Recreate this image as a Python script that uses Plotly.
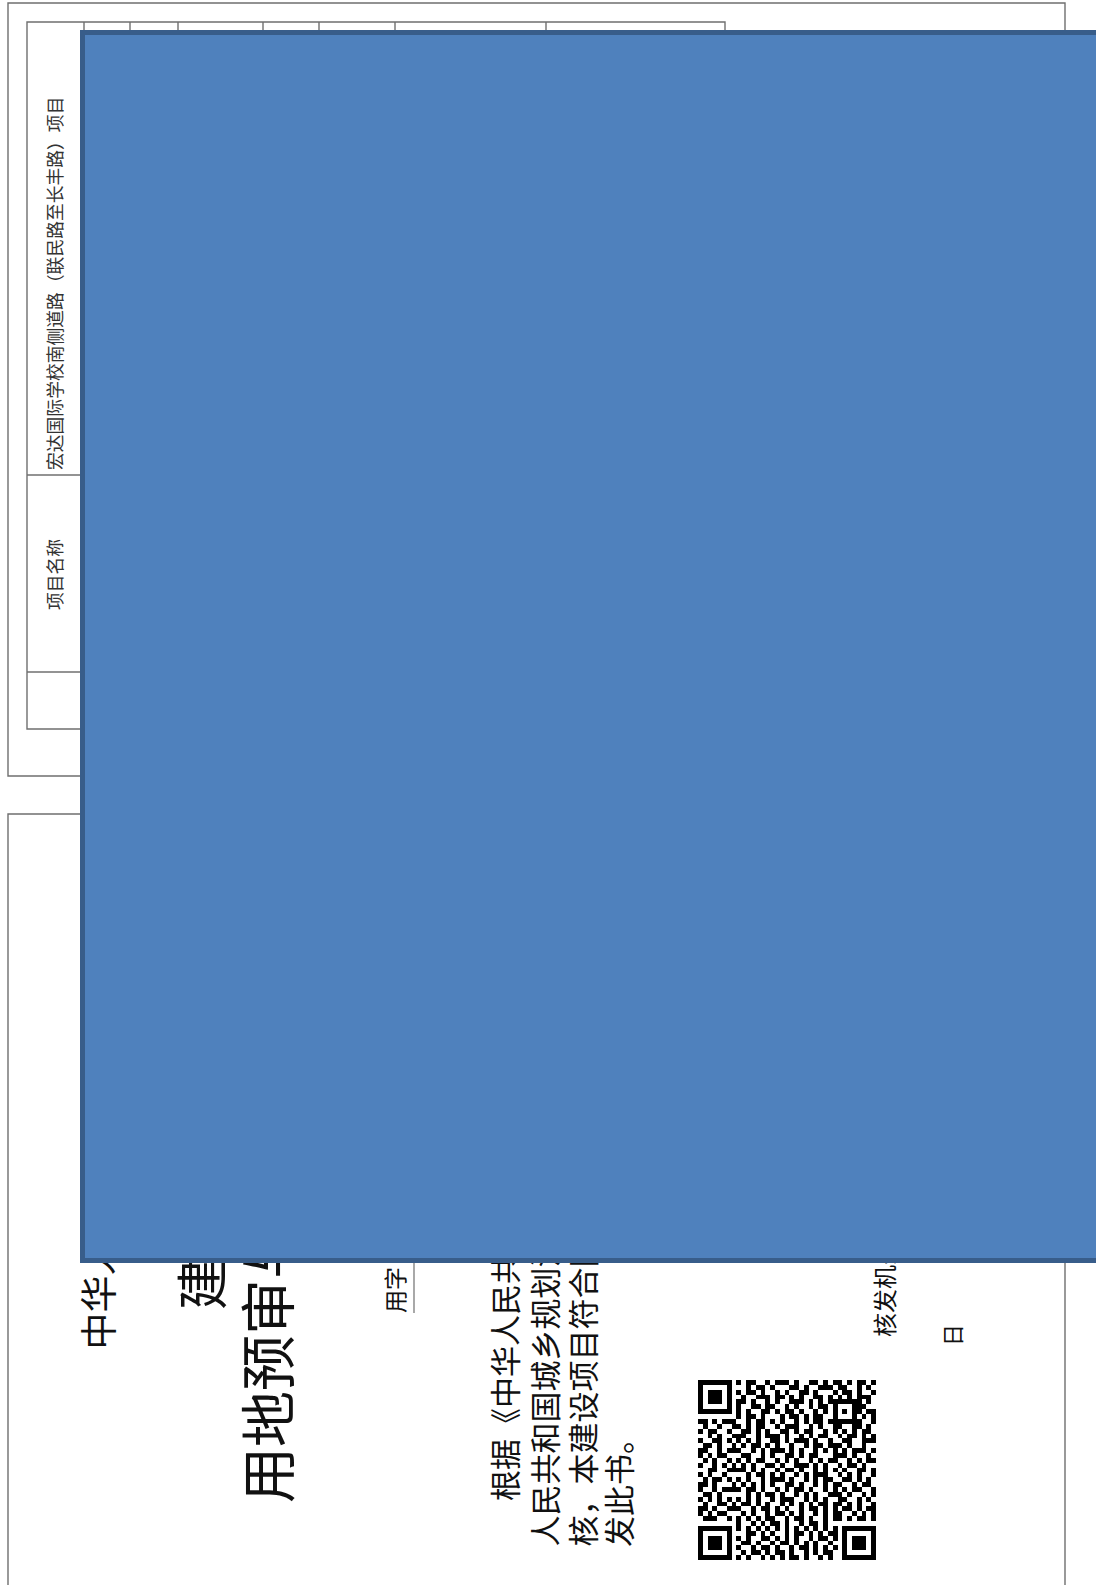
import plotly.graph_objects as go

# page texts (rotated document, read bottom-to-top)
table_label = "项目名称"
project_name = "宏达国际学校南侧道路（联民路至长丰路）项目"
country = "中华人民共和国"
title_lines = ["建设项目", "用地预审与选址意见书"]
number_label = "用字"
body_lines = [
    "根据《中华人民共和国土地管理法》",
    "人民共和国城乡规划法》和国家有关规定，经审",
    "核，本建设项目符合国土空间用途管制要求，颁",
    "发此书。",
]
issuer = "核发机关"
day_label = "日"

# QR code modules, '#' dark, '.' light
qr_rows = [
    "#######.#.##..#.###.#..##.#.##.#.##.###",
    "#.....#...#.##.#...##.#..###.##..#.#.",
    "#.###.#.#.##.#..#.#..##.#...#.##.#..#",
    "#.###.#..#..###.##.#.#..##.#.#.#.###.",
    "#.###.#.##.#..#.#..###.#.#.#######.#.#",
    "#.....#.#..##.##..#.#..#.##.#...###..",
    "#######.#.#..##.#.##.#..#.#.#.#.##.##",
    "........#.##.#...#.##.#.##..#...#.#.#",
    "##.#.###..#.##.#.#..#.#.##.#######..#.",
    ".#..#..##.#.##..#.###..#.#..##..##.#.",
    "#.##..#..##.#.#..##.#.##..#.#.#.#.##.",
    "..#.#..###..#.###.#..#.#.##..#.##.#.#",
    "#..##.#.#.#.#..##.#.###.#..#..##..###",
    ".##.#..#.#.##.#.#..#..#.##.###.#..#..",
    "##..#.###..#.#.###.#.#..#.#.#.#.###.#",
    "#.#.##...##..#.#..##.#.##...###.#..#.",
    ".#.#..#.#.#.##..#.#.#..#.#.##..#.#.##",
    "#..#.#.#.#.#..##.#..###.#.#..#.##.#..",
    "..##..####.#.#..#.##.#..#.#.#.#..##.#",
    "#.#..#....#.##.#.#..#.#.###..#.#.#..#",
    ".#.##.#.#.#..#.###.#..#.#.##..##.#.#.",
    "##.#...#.#.#.#.#..##.#..#.#.##..#.##.",
    "#..#.####.##.#..#.#.##.#..#.#.#.##..#",
    ".##.#.....#.#.##.#..#.#.#..###.#..#.#",
    "#.#.#.#.#.#.#..#.###..#.#.#..##..#.#.",
    ".#..##.#.##.#.#..#.#.#.#.##.##.#.#..#",
    "##.#..###..#.##.#.#..#.##.#.#.##.#.##",
    "#.#.##...#.#..#.##.#.#..#.#.##..#.#.#",
    ".###..#.#.#.#.##..#.##.#..#.##.#.##.#",
    "........#..#.#.##.#..#.##.#..........",
    "#######.#.#.#.#.#.#.#.#.#.#.#.#######",
    "#.....#...##.#.#..#.##.#.#.##.#.....#",
    "#.###.#.#.#..##.#.#.#..#.##.#.#.###.#",
    "#.###.#..##.#..#.##.#.#.#..#..#.###.#",
    "#.###.#.#..#.##.#..#.##.#.#.#.#.###.#",
    "#.....#..#.##.#.##.#..#.#.##..#.....#",
    "#######.#.#..#.#.#.##.#..#.#..#######",
]

W, H = 1096, 1585
N = 37
qr_z = [[1 if c == "#" else 0 for c in r.ljust(N, ".")[:N]] for r in qr_rows]

fig = go.Figure()

# QR code
qr_x, qr_y, qr_w, qr_h = 698, 1380, 178, 180
fig.add_trace(go.Heatmap(
    z=qr_z,
    x0=qr_x + qr_w / N / 2, dx=qr_w / N,
    y0=qr_y + qr_h / N / 2, dy=qr_h / N,
    colorscale=[[0, "#ffffff"], [1, "#000000"]],
    zmin=0, zmax=1, showscale=False, hoverinfo="skip",
))

line_col = "#6f6f6f"
def rect(x0, y0, x1, y1, w=1.4):
    fig.add_shape(type="rect", x0=x0, y0=y0, x1=x1, y1=y1,
                  line=dict(color=line_col, width=w), fillcolor="rgba(0,0,0,0)")

def seg(x0, y0, x1, y1, w=1.4):
    fig.add_shape(type="line", x0=x0, y0=y0, x1=x1, y1=y1,
                  line=dict(color=line_col, width=w))

# upper sheet with its table
rect(8, 3, 1065, 776)
rect(27, 22, 725, 729)
for yy in [475, 672]:
    seg(27, yy, 725, yy)
for xx in [84, 130, 178, 263, 319, 395, 546]:
    seg(xx, 22, xx, 729)

# lower sheet
rect(8, 814, 1065, 1700)
seg(414, 1263, 414, 1313, w=1.2)

font = "Noto Sans CJK SC, Noto Sans CJK JP, sans-serif"
def vtext(txt, x, y, size, yanchor="bottom", color="#111"):
    fig.add_annotation(x=x, y=y, text=txt, textangle=-90, showarrow=False,
                       xanchor="center", yanchor=yanchor,
                       font=dict(family=font, size=size, color=color))

vtext(project_name, 54, 284, 17.8, "middle", "#333")
vtext(table_label, 54, 575, 17.8, "middle", "#333")

vtext(country, 96, 1352, 37)
vtext(title_lines[0], 199, 1312, 52)
vtext(title_lines[1], 264, 1505, 56)
vtext(number_label, 394, 1315, 23)

body_x = [503, 543, 581, 617]
body_bottom = [1503, 1549, 1549, 1549]
for txt, bx, by in zip(body_lines, body_x, body_bottom):
    vtext(txt, bx, by, 31)

vtext(issuer, 883, 1339, 24)
vtext(day_label, 951, 1335, 22, "middle")

# blue cover block, drawn last so it sits on top of the page text
fig.add_annotation(x=80, y=30, xanchor="left", yanchor="top", text=" ",
                   showarrow=False, width=1030, height=1223,
                   bgcolor="#4f81bd", bordercolor="#385d8a",
                   borderwidth=5, borderpad=0)

fig.update_layout(
    width=W, height=H,
    margin=dict(l=0, r=0, t=0, b=0),
    paper_bgcolor="white", plot_bgcolor="white",
    showlegend=False, hovermode=False,
    xaxis=dict(range=[0, W], visible=False, fixedrange=True),
    yaxis=dict(range=[H, 0], visible=False, fixedrange=True),
)

fig.write_html("out.html", config={"displayModeBar": False},
               post_script="document.body.style.margin='0';document.body.style.overflow='hidden';")
